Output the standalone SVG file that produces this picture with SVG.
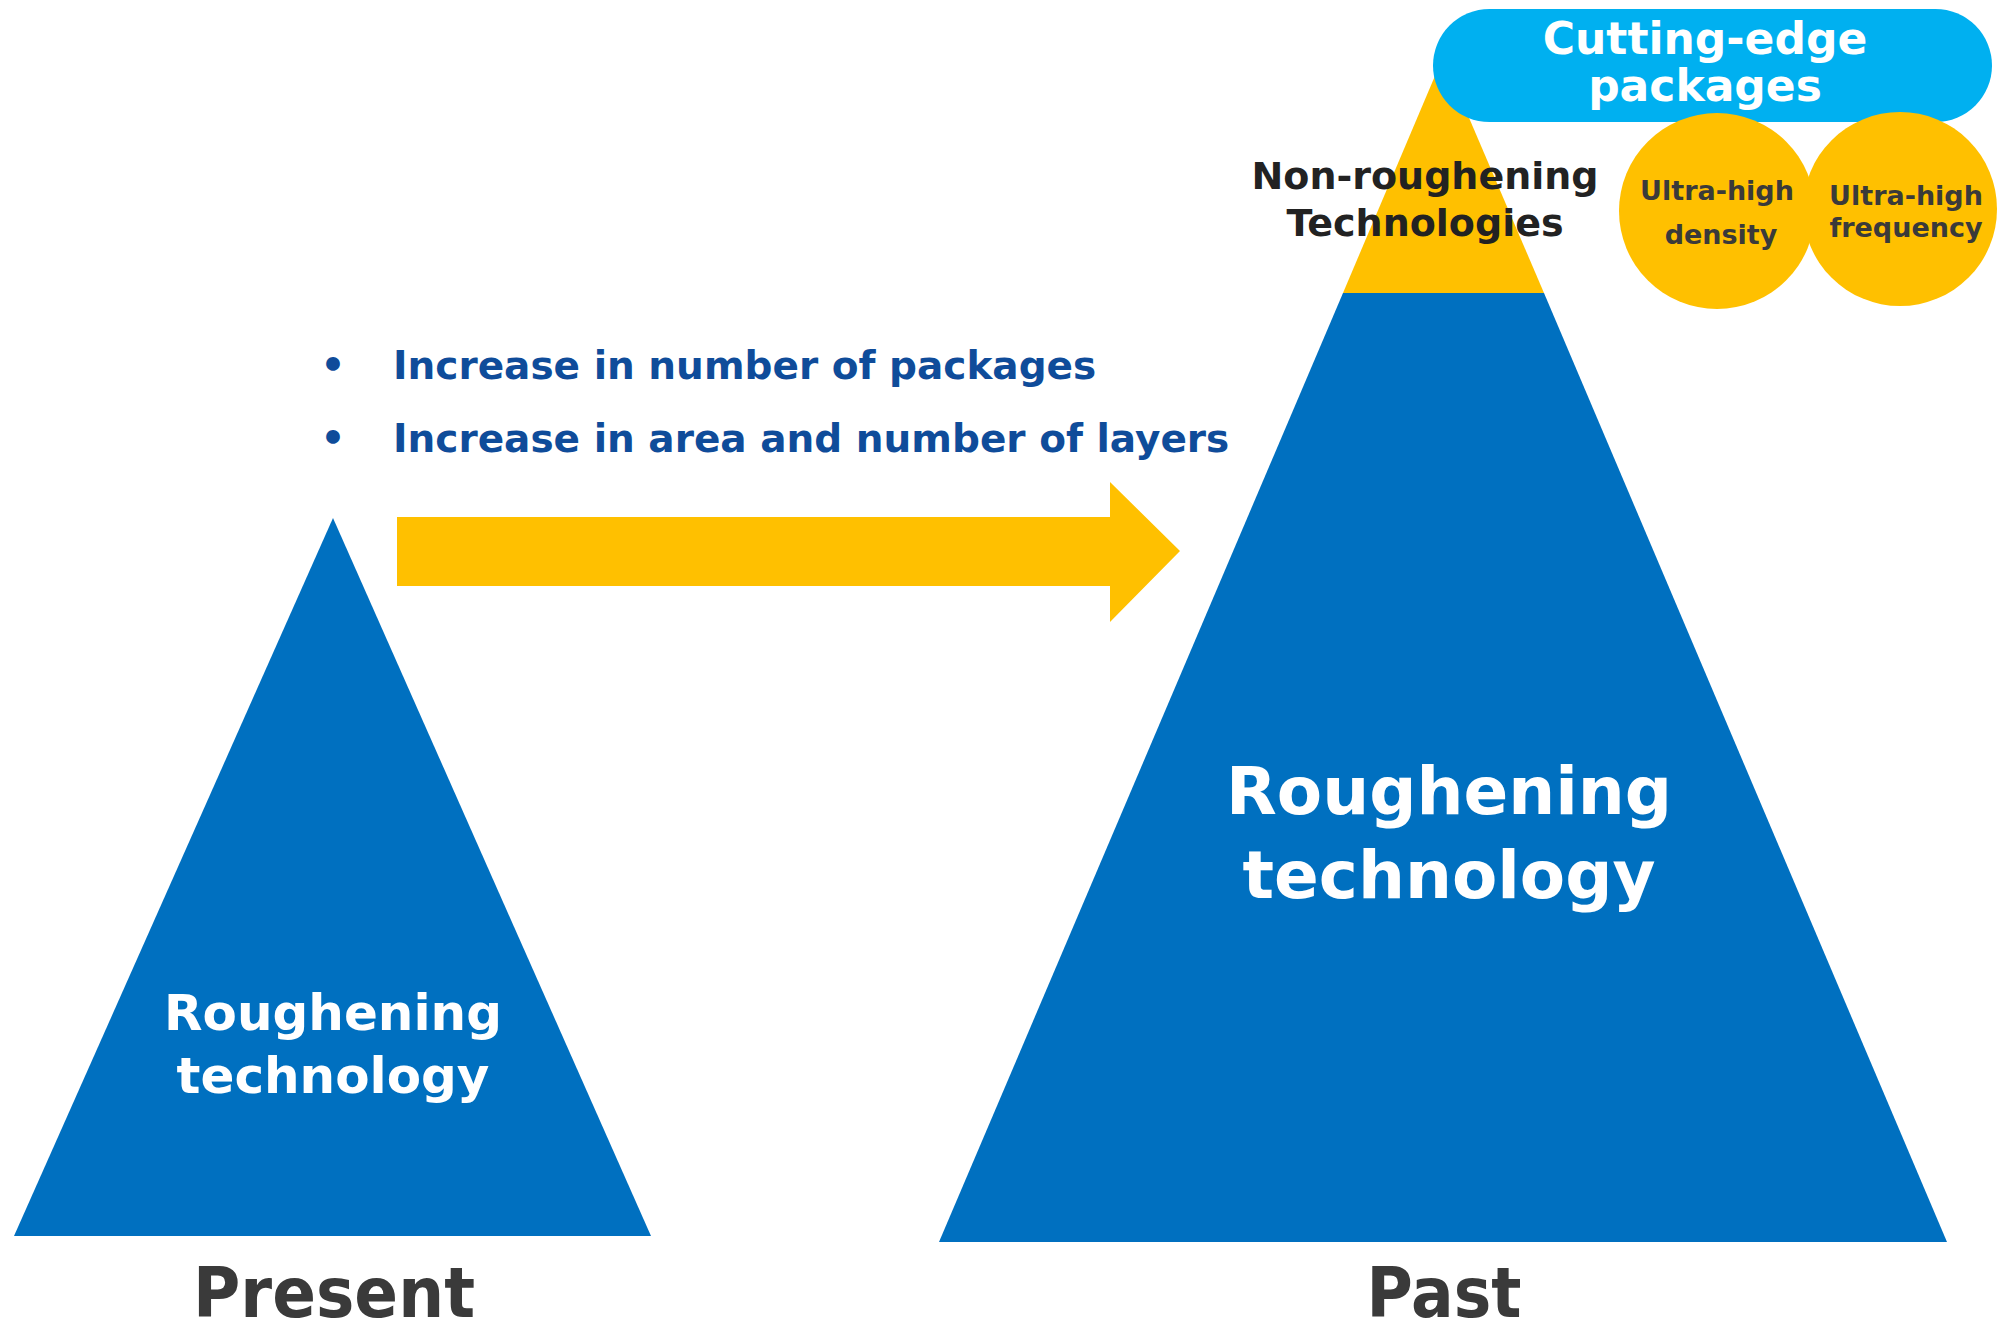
<svg xmlns="http://www.w3.org/2000/svg" width="2006" height="1321" viewBox="0 0 2006 1321">
<style>
text{font-family:"DejaVu Sans","Liberation Sans",sans-serif;font-weight:bold;text-anchor:middle}
.blue{fill:#0070c0}
.yel{fill:#ffc000}
.w{fill:#ffffff}
.dk{fill:#3a3a3a}
.bl{fill:#0f4c9a;text-anchor:start;font-size:39px}
.dot{fill:#0f4c9a;font-size:39px}
</style>
<rect width="2006" height="1321" fill="#ffffff"/>
<g id="present-triangle">
<polygon class="blue" points="333,518 14,1236 651,1236"/>
<text class="w" x="333" y="1030" font-size="50">Roughening</text>
<text class="w" x="333" y="1093" font-size="50">technology</text>
</g>
<g id="present-label"><text class="dk" x="334" y="1317" font-size="70" textLength="282" lengthAdjust="spacingAndGlyphs">Present</text></g>
<g id="connectors">
<polygon class="yel" points="397,517 1110,517 1110,482 1180,551 1110,622 1110,586 397,586"/>
</g>
<g id="bullets">
<text class="dot" x="333" y="378">•</text>
<text class="bl" x="393" y="379">Increase in number of packages</text>
<text class="dot" x="333" y="451">•</text>
<text class="bl" x="393" y="452">Increase in area and number of layers</text>
</g>
<g id="past-triangle">
<polygon class="yel" points="1443,57 1343,293 1544,293"/>
<polygon class="blue" points="1343,293 1544,293 1947,1242 939,1242"/>
<text class="w" x="1449" y="814" font-size="66">Roughening</text>
<text class="w" x="1449" y="898" font-size="66">technology</text>
</g>
<g id="past-label"><text class="dk" x="1444" y="1317" font-size="70" textLength="155" lengthAdjust="spacingAndGlyphs">Past</text></g>
<g id="non-roughening"><text fill="#222222" x="1425" y="189" font-size="38">Non-roughening</text>
<text fill="#222222" x="1425" y="236" font-size="38">Technologies</text></g>
<g id="cutting-edge">
<rect x="1433" y="9" width="559" height="113" rx="56.5" fill="#00b0f0"/>
<text class="w" x="1705" y="54" font-size="44">Cutting-edge</text>
<text class="w" x="1705" y="101" font-size="44">packages</text>
</g>
<g id="ultra-density">
<circle class="yel" cx="1717" cy="211" r="98"/>
<text class="dk" x="1717" y="200" font-size="27">Ultra-high</text>
<text class="dk" x="1721" y="244" font-size="27">density</text>
</g>
<g id="ultra-frequency">
<circle class="yel" cx="1900" cy="209" r="97"/>
<text class="dk" x="1906" y="205" font-size="27">Ultra-high</text>
<text class="dk" x="1906" y="237" font-size="27">frequency</text>
</g>
</svg>
